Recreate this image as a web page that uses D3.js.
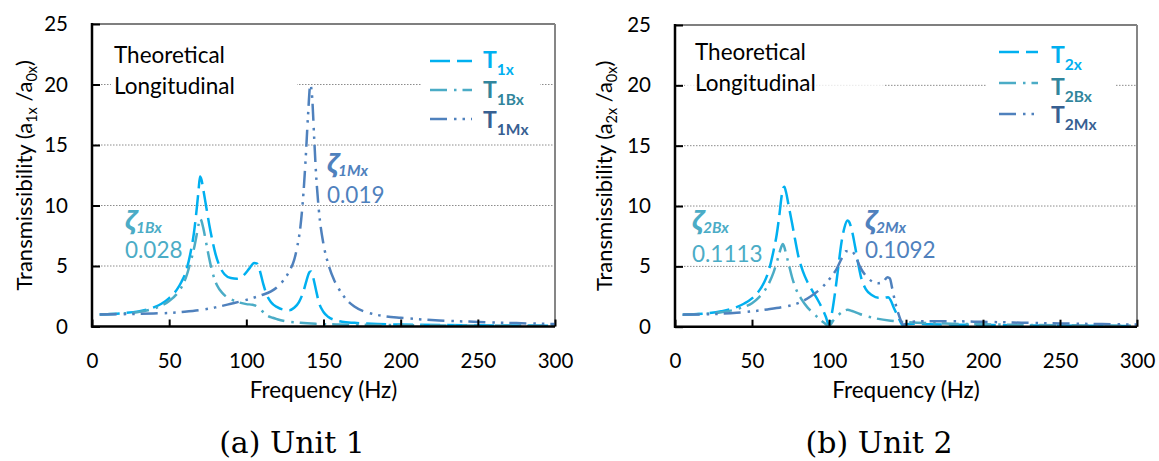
<!DOCTYPE html>
<html>
<head>
<meta charset="utf-8">
<script src="https://cdn.jsdelivr.net/npm/d3@7"></script>
<style>
  body { margin: 0; background: #fff; }
  svg { display: block; }
  text { font-family: Lato, "Open Sans", sans-serif; }
</style>
</head>
<body>
<svg id="chart" width="1159" height="461"></svg>
<script>
// Axis ticks
const xTicks = [0, 50, 100, 150, 200, 250, 300];
const yTicks = [0, 5, 10, 15, 20, 25];

// Unit 1 transmissibility curves: [frequency (Hz), a1x/a0x]
const T1x = [[5,1.0],[10,1.02],[20,1.1],[30,1.25],[40,1.58],[45,1.88],[50,2.35],[55,3.05],[58,3.7],[61,4.6],[64,6.2],[66,7.7],[68,9.9],[69,11.2],[70,12.4],[71,12.1],[72,11.4],[74,9.9],[76,8.4],[78,7.1],[80,6.0],[83,4.9],[86,4.3],[90,4.0],[94,3.95],[98,4.2],[102,4.8],[105,5.25],[107,5.2],[109,4.5],[111,3.5],[113,2.7],[116,2.0],[120,1.6],[124,1.4],[128,1.35],[131,1.55],[134,2.0],[137,2.9],[139,3.8],[141,4.5],[142,4.55],[143,4.2],[145,3.1],[147,2.0],[150,1.2],[153,0.8],[157,0.55],[162,0.4],[170,0.3],[185,0.2],[200,0.16],[225,0.12],[250,0.1],[275,0.08],[300,0.07]];
const T1Bx = [[5,1.0],[10,1.02],[20,1.08],[30,1.2],[40,1.48],[45,1.72],[50,2.1],[55,2.7],[58,3.25],[61,4.1],[64,5.4],[66,6.4],[68,7.7],[69,8.4],[70,8.9],[71,8.7],[72,8.2],[74,6.9],[76,5.6],[78,4.5],[81,3.4],[85,2.7],[90,2.25],[95,2.0],[100,1.85],[104,1.8],[107,1.65],[110,1.3],[113,0.95],[117,0.72],[120,0.6],[126,0.42],[135,0.3],[145,0.22],[160,0.17],[180,0.13],[200,0.11],[250,0.08],[300,0.06]];
const T1Mx = [[5,1.0],[20,1.02],[40,1.08],[50,1.12],[60,1.22],[70,1.36],[80,1.58],[90,1.88],[100,2.2],[110,2.6],[116,2.9],[120,3.25],[124,3.8],[128,4.6],[131,5.5],[133,6.6],[135,8.2],[137,11.0],[138.5,14.0],[140,17.5],[141.5,20.0],[142.5,19.2],[144,15.5],[145,13.0],[147,9.6],[150,6.8],[153,5.2],[157,3.8],[160,3.1],[165,2.2],[170,1.65],[180,1.1],[190,0.85],[200,0.72],[225,0.5],[250,0.38],[275,0.28],[300,0.2]];

// Unit 2 transmissibility curves: [frequency (Hz), a2x/a0x]
const T2x = [[5,1.0],[10,1.02],[20,1.1],[30,1.28],[40,1.62],[45,1.92],[50,2.35],[55,3.05],[58,3.7],[61,4.7],[64,6.3],[66,7.6],[68,9.5],[69,10.6],[70,11.4],[71,11.6],[72,11.2],[74,9.9],[76,8.6],[78,7.2],[80,5.9],[83,4.6],[86,3.7],[90,2.8],[93,2.15],[96,1.4],[98,0.8],[100,0.1],[102,1.2],[104,2.9],[106,4.9],[108,6.9],[110,8.2],[112,8.8],[113,8.7],[115,7.9],[117,6.6],[119,5.2],[121,4.0],[124,3.1],[128,2.6],[132,2.4],[136,2.4],[138.5,2.45],[140,2.2],[142,1.6],[145,0.8],[148,0.1],[150,0.2],[155,0.24],[165,0.2],[180,0.17],[200,0.14],[225,0.11],[250,0.09],[275,0.07],[300,0.06]];
const T2Bx = [[5,1.0],[20,1.08],[30,1.2],[40,1.45],[45,1.65],[50,1.95],[55,2.5],[58,2.95],[61,3.6],[64,4.5],[66,5.3],[68,6.2],[69,6.6],[70,6.85],[71,6.6],[72,6.1],[74,5.1],[76,4.1],[78,3.3],[82,2.3],[86,1.6],[90,1.1],[94,0.6],[97,0.3],[100,0.05],[103,0.55],[106,0.95],[109,1.25],[112,1.4],[115,1.3],[120,1.05],[125,0.85],[130,0.7],[140,0.5],[150,0.38],[175,0.26],[200,0.2],[250,0.12],[300,0.08]];
const T2Mx = [[5,1.0],[20,1.03],[40,1.15],[50,1.27],[60,1.43],[70,1.63],[80,1.95],[88,2.5],[95,3.2],[100,3.9],[105,4.8],[108,5.6],[111,6.25],[114,6.3],[117,5.9],[120,5.0],[124,4.2],[128,3.75],[132,3.6],[135,3.7],[138,4.1],[139.5,4.0],[141,3.2],[143,2.0],[145,1.1],[147,0.4],[148.5,0.15],[151,0.35],[160,0.45],[180,0.45],[200,0.4],[225,0.33],[250,0.27],[275,0.22],[300,0.18]];

// Legend subscripts and damping-ratio labels
const unit1Subs = ["1x", "1Bx", "1Mx"];
const unit2Subs = ["2x", "2Bx", "2Mx"];
const unit1Zeta = [{sub: "1Bx", value: "0.028"}, {sub: "1Mx", value: "0.019"}];
const unit2Zeta = [{sub: "2Bx", value: "0.1113"}, {sub: "2Mx", value: "0.1092"}];

// Shared styling
const lineColors = ["#00B0F0", "#4BACC6", "#4F81BD"];
const legendTextColors = ["#00B0F0", "#31859C", "#376092"];
const dashes = ["20,7", "17,7,2.5,6", "17,7,2.5,6,2.5,6"];

const svg = d3.select("#chart");

const panels = [
  {
    xr: [92, 555], yr: [326.5, 24],
    series: [T1x, T1Bx, T1Mx], subs: unit1Subs, zeta: unit1Zeta,
    zetaPos: [[125, 229, 258], [327, 172, 203]],
    textBox: {x: 111, y: 37, w: 186, h: 68, op: 1},
    textPos: [114, 63, 94],
    legendBox: {x: 422, y: 42, w: 118, h: 94},
    legend: {x1: 430, x2: 472, tx: 483, rows: [61, 90, 119], base: [68, 98, 128]},
    ySub: "1x", yTitleX: 32, caption: "(a) Unit 1", capX: 292
  },
  {
    xr: [675, 1137], yr: [326.7, 25],
    series: [T2x, T2Bx, T2Mx], subs: unit2Subs, zeta: unit2Zeta,
    zetaPos: [[692, 229, 262], [865, 229, 258]],
    textBox: {x: 685, y: 35, w: 200, h: 68, op: 0.8},
    textPos: [695, 60, 91],
    legendBox: {x: 987, y: 35, w: 128, h: 98},
    legend: {x1: 999, x2: 1038, tx: 1051, rows: [52, 83, 114], base: [63, 95, 123]},
    ySub: "2x", yTitleX: 612, caption: "(b) Unit 2", capX: 879
  }
];

panels.forEach(p => {
  const x = d3.scaleLinear().domain([0, 300]).range(p.xr);
  const y = d3.scaleLinear().domain([0, 25]).range(p.yr);
  const g = svg.append("g");

  // dotted horizontal gridlines
  g.selectAll("line.grid").data([5, 10, 15, 20]).join("line")
    .attr("x1", x(0)).attr("x2", x(300))
    .attr("y1", d => y(d)).attr("y2", d => y(d))
    .attr("stroke", "#8c8c8c").attr("stroke-width", 1)
    .attr("stroke-dasharray", "1.5,1.5");

  // white boxes behind the caption text and the legend
  g.append("rect").attr("x", p.textBox.x).attr("y", p.textBox.y)
    .attr("width", p.textBox.w).attr("height", p.textBox.h)
    .attr("fill", "#fff").attr("fill-opacity", p.textBox.op);
  g.append("rect").attr("x", p.legendBox.x).attr("y", p.legendBox.y)
    .attr("width", p.legendBox.w).attr("height", p.legendBox.h)
    .attr("fill", "#fff");

  // frame: grey top/right, black axes left/bottom
  g.append("line").attr("x1", x(0)).attr("x2", x(300)).attr("y1", y(25)).attr("y2", y(25))
    .attr("stroke", "#7f7f7f").attr("stroke-width", 2);
  g.append("line").attr("x1", x(300)).attr("x2", x(300)).attr("y1", y(0)).attr("y2", y(25))
    .attr("stroke", "#868686").attr("stroke-width", 2);

  // curves
  const line = d3.line().x(d => x(d[0])).y(d => y(d[1])).curve(d3.curveMonotoneX);
  p.series.forEach((s, i) => {
    g.append("path").datum(s).attr("d", line)
      .attr("fill", "none").attr("stroke", lineColors[i])
      .attr("stroke-width", 2.5).attr("stroke-dasharray", dashes[i]);
  });

  // axes with inward ticks
  const yAxis = d3.axisLeft(y).tickValues(yTicks).tickSize(-8).tickPadding(24);
  const xAxis = d3.axisBottom(x).tickValues(xTicks).tickSize(-7).tickPadding(27);
  const ya = g.append("g").attr("transform", `translate(${x(0)},0)`).call(yAxis);
  const xa = g.append("g").attr("transform", `translate(0,${y(0)})`).call(xAxis);
  [ya, xa].forEach(a => {
    a.select(".domain").remove();
    a.selectAll(".tick line").attr("stroke", "#000").attr("stroke-width", 2);
    a.selectAll(".tick text").attr("fill", "#000").style("font-size", "20.5px")
      .style("font-family", "Lato, sans-serif");
  });
  g.append("line").attr("x1", x(0)).attr("x2", x(0)).attr("y1", y(0) + 1).attr("y2", y(25) - 1)
    .attr("stroke", "#000").attr("stroke-width", 2.5);
  g.append("line").attr("x1", x(0) - 1).attr("x2", x(300)).attr("y1", y(0)).attr("y2", y(0))
    .attr("stroke", "#000").attr("stroke-width", 2.5);

  // "Theoretical / Longitudinal"
  g.append("text").attr("x", p.textPos[0]).attr("y", p.textPos[1])
    .attr("font-size", 22.5).attr("fill", "#000").text("Theoretical");
  g.append("text").attr("x", p.textPos[0]).attr("y", p.textPos[2])
    .attr("font-size", 22.5).attr("fill", "#000").text("Longitudinal");

  // legend
  const L = p.legend;
  p.subs.forEach((sub, i) => {
    g.append("line").attr("x1", L.x1).attr("x2", L.x2)
      .attr("y1", L.rows[i]).attr("y2", L.rows[i])
      .attr("stroke", lineColors[i]).attr("stroke-width", 2.5)
      .attr("stroke-dasharray", dashes[i]);
    const t = g.append("text").attr("x", L.tx).attr("y", L.base[i])
      .attr("fill", legendTextColors[i]).attr("font-weight", "bold");
    t.append("tspan").attr("font-size", 23).text("T");
    t.append("tspan").attr("font-size", 15.5).attr("dy", 7).text(sub);
  });

  // damping-ratio annotations
  p.zeta.forEach((z, i) => {
    const [zx, zy, vy] = p.zetaPos[i];
    const c = lineColors[i + 1];
    const t = g.append("text").attr("x", zx).attr("y", zy).attr("fill", c)
      .attr("font-weight", "bold").attr("font-style", "italic");
    t.append("tspan").attr("font-size", 25).style("font-family", "'Noto Sans', sans-serif").text("ζ");
    t.append("tspan").attr("font-size", 15.5).attr("dy", 4).text(z.sub);
    g.append("text").attr("x", zx).attr("y", vy).attr("fill", c)
      .attr("font-size", 22.5).text(z.value);
  });

  // axis titles
  const yc = (p.yr[0] + p.yr[1]) / 2;
  const yt = g.append("text").attr("transform", `translate(${p.yTitleX},${yc}) rotate(-90)`)
    .attr("text-anchor", "middle").attr("font-size", 22).attr("fill", "#000");
  yt.append("tspan").text("Transmissibility (a");
  yt.append("tspan").attr("font-size", 14.5).attr("dy", 5).text(p.ySub);
  yt.append("tspan").attr("dy", -5).text(" /a");
  yt.append("tspan").attr("font-size", 14.5).attr("dy", 5).text("0x");
  yt.append("tspan").attr("dy", -5).text(")");

  g.append("text").attr("x", (p.xr[0] + p.xr[1]) / 2).attr("y", 398)
    .attr("text-anchor", "middle").attr("font-size", 22.5).attr("fill", "#000")
    .text("Frequency (Hz)");

  // panel caption
  g.append("text").attr("x", p.capX).attr("y", 453).attr("text-anchor", "middle")
    .attr("font-size", 30).attr("fill", "#000")
    .style("font-family", "'DejaVu Serif', serif").text(p.caption);
});
</script>
</body>
</html>
